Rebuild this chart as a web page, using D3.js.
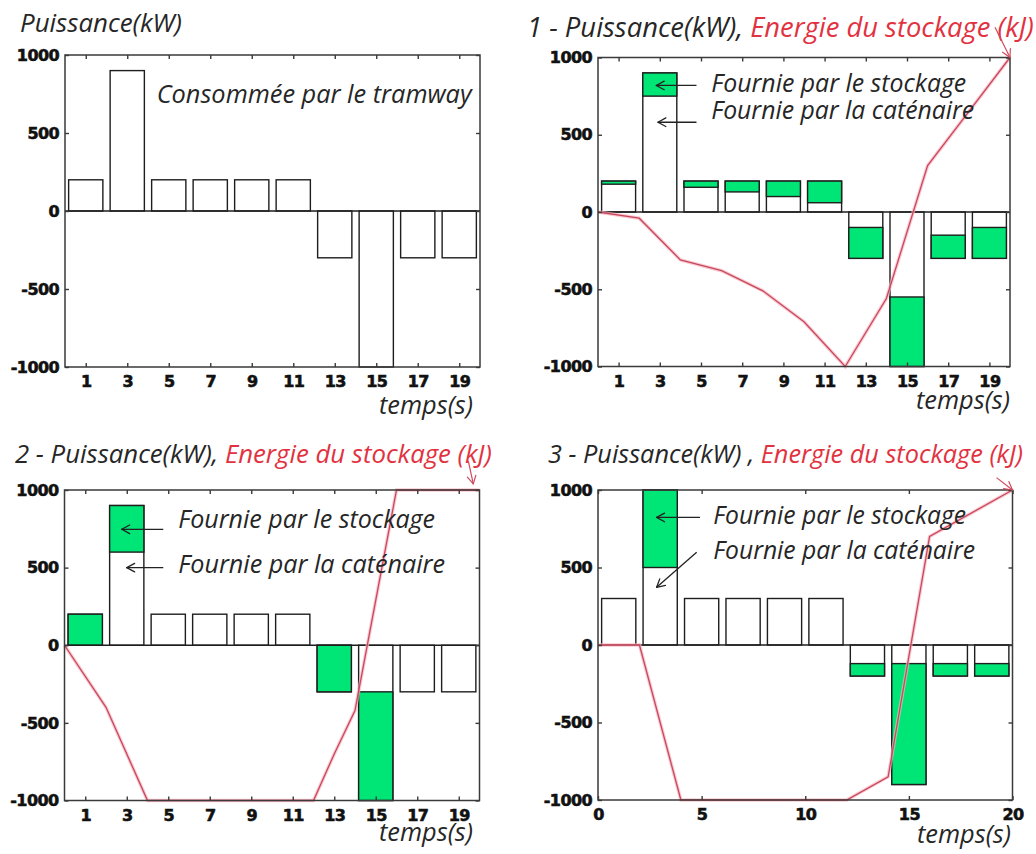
<!DOCTYPE html>
<html><head><meta charset="utf-8">
<script src="https://cdn.jsdelivr.net/npm/d3@7"></script>
<style>body{margin:0;background:#fff}svg{display:block}</style>
</head><body><svg id="c" width="1036" height="854"></svg>
<script>
// ---------- DATA ----------
const slots = [1,3,5,7,9,11,13,15,17,19];            // bar centres (s)
const oddTicks = [1,3,5,7,9,11,13,15,17,19];
const evenTicks = [0,5,10,15,20];
const yTicks = [-1000,-500,0,500,1000];

// power consumed by the tramway (kW)
const consumedA = [200,900,200,200,200,200,-300,-1000,-300,-300];
const consumedB = [300,1000,300,300,300,300,-200,-900,-200,-200];

// part supplied by the catenary (kW), rest is storage
const catenary1 = [180,750,160,130,100,60,-100,-550,-150,-100];
const catenary2 = [0,600,200,200,200,200,0,-300,-300,-300];
const catenary3 = [300,500,300,300,300,300,-120,-120,-120,-120];

// storage energy (kJ, scaled)
const energyT1 = [0,2,4,6,8,10,12,14,16,18,20];
const energy1  = [0,-40,-310,-380,-510,-710,-1000,-560,300,650,1000];
const energyT2 = [0,2,4,12,13,14,16,20];
const energy2  = [0,-400,-1000,-1000,-700,-420,1000,1000];
const energyT3 = [0,2,4,12,14,16,20];
const energy3  = [0,0,-1000,-1000,-850,700,1000];

const txtStock = "Fournie par le stockage";
const txtCat = "Fournie par la caténaire";
const txtTemps = "temps(s)";

// ---------- STYLE ----------
const GREEN = "#00e676", RED_TXT = "#e2323f", RED_LINE = "#c8485c", HALO = "#f6b3c0";
const INK = "#262626";
const TXT_FONT = "'Open Sans', sans-serif";
const TICK_FONT = "'DejaVu Sans', sans-serif";
const fmt = d => String(d);

const svg = d3.select("#c");

function fit(sel, w){
  const n = sel.node();
  const cur = parseFloat(sel.attr("font-size"));
  const len = n.getComputedTextLength();
  sel.attr("font-size", (cur * w / len).toFixed(2));
}

function arrow(g, x1, y1, x2, y2, color, sw){
  g.append("line").attr("x1",x1).attr("y1",y1).attr("x2",x2).attr("y2",y2)
    .attr("stroke",color).attr("stroke-width",sw);
  const a = Math.atan2(y1-y2, x1-x2), L = 9, s = 0.5;
  [a+s, a-s].forEach(b=>{
    g.append("line").attr("x1",x2).attr("y1",y2)
      .attr("x2",x2+L*Math.cos(b)).attr("y2",y2+L*Math.sin(b))
      .attr("stroke",color).attr("stroke-width",sw).attr("stroke-linecap","round");
  });
}

function styleTickText(a){
  a.selectAll("text").attr("font-family",TICK_FONT).attr("font-weight","bold")
    .attr("font-size",16).attr("fill","#111").attr("stroke","#111")
    .attr("stroke-width",0.6).attr("letter-spacing",-0.6);
}

function panel(cfg){
  const g = svg.append("g");
  const x = d3.scaleLinear().domain([0,20]).range([cfg.left, cfg.right]);
  const y = d3.scaleLinear().domain([-1000,1000]).range([cfg.bottom, cfg.top]);
  const bw = 1.65;

  // bars: total outline
  g.selectAll(".tot").data(slots).join("rect")
    .attr("x", (d)=>x(d-bw/2)).attr("width", x(bw)-x(0))
    .attr("y", (d,i)=>y(Math.max(0,cfg.total[i])))
    .attr("height",(d,i)=>Math.abs(y(cfg.total[i])-y(0)))
    .attr("fill","#fff").attr("stroke","#1e1e1e").attr("stroke-width",1.4);
  // storage part
  if(cfg.cat){
    g.selectAll(".sto").data(slots).join("rect")
      .attr("x", (d)=>x(d-bw/2)).attr("width", x(bw)-x(0))
      .attr("y", (d,i)=>y(Math.max(cfg.cat[i],cfg.total[i])))
      .attr("height",(d,i)=>Math.abs(y(cfg.total[i])-y(cfg.cat[i])))
      .attr("fill",GREEN).attr("stroke","#1e1e1e").attr("stroke-width",1.4)
      .attr("display",(d,i)=>cfg.total[i]===cfg.cat[i]?"none":null);
  }
  // zero baseline
  g.append("line").attr("x1",cfg.left).attr("x2",cfg.right).attr("y1",y(0)).attr("y2",y(0))
    .attr("stroke","#1e1e1e").attr("stroke-width",1.4);

  // energy line
  if(cfg.eT){
    const pts = cfg.eT.map((t,i)=>[t,cfg.e[i]]);
    const line = d3.line().x(d=>x(d[0])).y(d=>y(d[1]));
    g.append("path").attr("d",line(pts)).attr("fill","none").attr("stroke",HALO)
      .attr("stroke-width",3.5).attr("stroke-opacity",0.7);
    g.append("path").attr("d",line(pts)).attr("fill","none").attr("stroke",RED_LINE)
      .attr("stroke-width",1.3);
  }

  // frame
  g.append("rect").attr("x",cfg.left).attr("y",cfg.top)
    .attr("width",cfg.right-cfg.left).attr("height",cfg.bottom-cfg.top)
    .attr("fill","none").attr("stroke","#3a3a3a").attr("stroke-width",1.5);

  // x ticks (inward top & bottom)
  const xt = cfg.xTicks;
  g.append("g").attr("transform",`translate(0,${cfg.bottom})`)
    .call(d3.axisBottom(x).tickValues(xt).tickSize(-4).tickPadding(9).tickFormat(fmt))
    .call(a=>{a.select(".domain").remove();
      a.selectAll("line").attr("stroke","#3a3a3a").attr("stroke-width",1.4);
      styleTickText(a);});
  g.append("g").attr("transform",`translate(0,${cfg.top})`)
    .call(d3.axisTop(x).tickValues(xt).tickSize(-4).tickFormat(""))
    .call(a=>{a.select(".domain").remove();
      a.selectAll("line").attr("stroke","#3a3a3a").attr("stroke-width",1.4);});
  // y ticks
  g.append("g").attr("transform",`translate(${cfg.left},0)`)
    .call(d3.axisLeft(y).tickValues(yTicks).tickSize(-4).tickPadding(6).tickFormat(fmt))
    .call(a=>{a.select(".domain").remove();
      a.selectAll("line").attr("stroke","#3a3a3a").attr("stroke-width",1.4);
      styleTickText(a);});
  g.append("g").attr("transform",`translate(${cfg.right},0)`)
    .call(d3.axisRight(y).tickValues(yTicks).tickSize(-4).tickFormat(""))
    .call(a=>{a.select(".domain").remove();
      a.selectAll("line").attr("stroke","#3a3a3a").attr("stroke-width",1.4);});

  // title
  const t = g.append("text").attr("x",cfg.titleX).attr("y",cfg.titleY)
    .attr("font-family",TXT_FONT).attr("font-style","italic").attr("font-size",22)
    .attr("fill",INK);
  t.append("tspan").text(cfg.title[0]);
  if(cfg.title[1]) t.append("tspan").attr("fill",RED_TXT).text(cfg.title[1]);
  fit(t, cfg.titleW);

  // temps(s)
  const ts = g.append("text").attr("x",cfg.tempsX).attr("y",cfg.tempsY)
    .attr("font-family",TXT_FONT).attr("font-style","italic").attr("font-size",22)
    .attr("fill",INK).text(txtTemps);
  fit(ts, 94);
  ts.attr("x", cfg.tempsX - ts.node().getComputedTextLength());

  // annotations (data coordinates)
  (cfg.notes||[]).forEach(n=>{
    const tt = g.append("text").attr("x",x(n.t)).attr("y",y(n.v))
      .attr("font-family",TXT_FONT).attr("font-style","italic").attr("font-size",20)
      .attr("fill",INK).text(n.text);
    fit(tt, n.w);
  });
  (cfg.arrows||[]).forEach(a=>{
    arrow(g, x(a[0]), y(a[1]), x(a[2]), y(a[3]), a[4]||"#222", a[4]?1.2:1.3);
  });
}

panel({left:65,right:480,top:55,bottom:367,total:consumedA,cat:null,xTicks:oddTicks,
  title:["Puissance(kW)"],titleX:20,titleY:31.5,titleW:162,tempsX:473,tempsY:414,
  notes:[{t:4.42,v:692,text:"Consommée par le tramway",w:315}]});

panel({left:598,right:1010,top:57.5,bottom:366.5,total:consumedA,cat:catenary1,
  eT:energyT1,e:energy1,xTicks:oddTicks,
  title:["1 - Puissance(kW), ","Energie du stockage (kJ)"],titleX:527,titleY:36.5,titleW:507,
  tempsX:1010,tempsY:409,
  notes:[{t:5.5,v:777,text:txtStock,w:255},{t:5.5,v:605,text:txtCat,w:263}],
  arrows:[[4.78,819,2.83,819],[4.78,581,2.91,581],[19.27,1196,20,1000,"#d04a5e"]]});

panel({left:64.5,right:479.5,top:490,bottom:800.5,total:consumedA,cat:catenary2,
  eT:energyT2,e:energy2,xTicks:oddTicks,
  title:["2 - Puissance(kW), ","Energie du stockage (kJ)"],titleX:15,titleY:463,titleW:477,
  tempsX:473,tempsY:841,
  notes:[{t:5.48,v:757,text:txtStock,w:257},{t:5.48,v:467,text:txtCat,w:267}],
  arrows:[[4.76,747,2.76,747],[4.76,500,3.0,500],[19.46,1187,19.7,1039,"#d04a5e"]]});

panel({left:598,right:1012.5,top:490,bottom:800,total:consumedB,cat:catenary3,
  eT:energyT3,e:energy3,xTicks:evenTicks,
  title:["3 - Puissance(kW) , ","Energie du stockage (kJ)"],titleX:548,titleY:463,titleW:475,
  tempsX:1011,tempsY:843,
  notes:[{t:5.56,v:780,text:txtStock,w:253},{t:5.56,v:556,text:txtCat,w:262}],
  arrows:[[4.92,823,2.83,823],[4.76,598,2.83,372],[19.23,1080,20,1000,"#d04a5e"]]});
</script></body></html>
